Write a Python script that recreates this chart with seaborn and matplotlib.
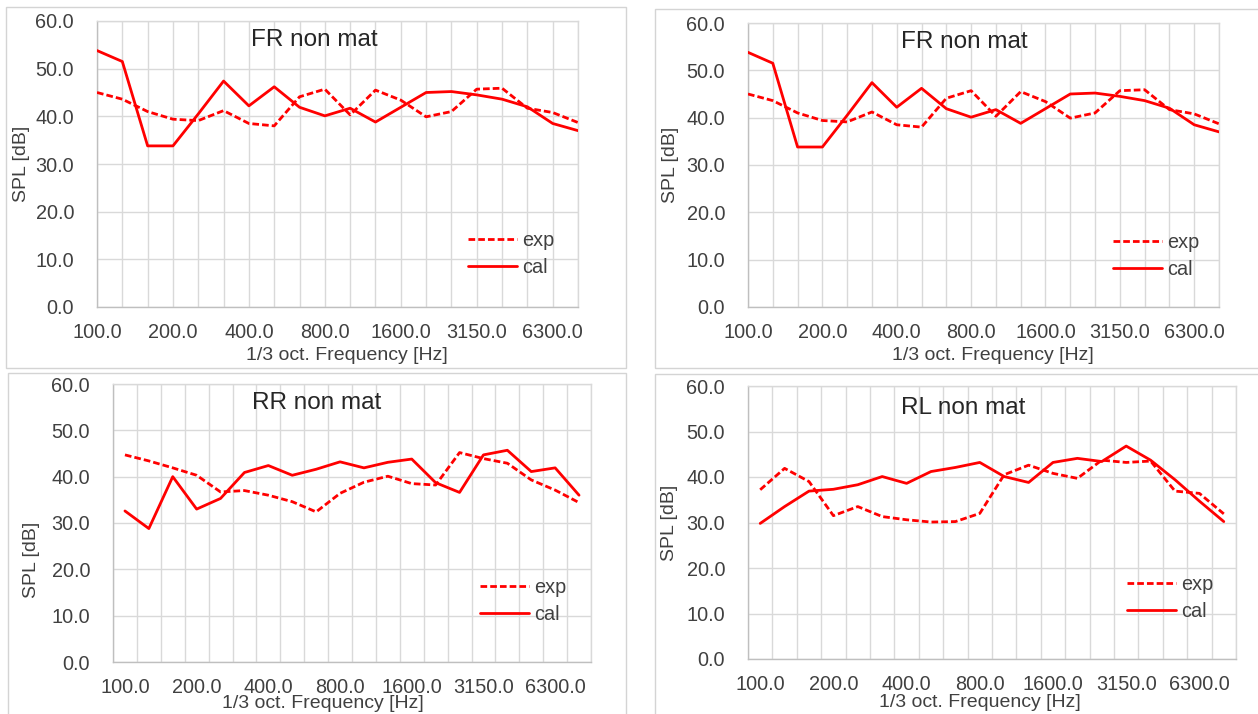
import numpy as np
import pandas as pd
import matplotlib
matplotlib.use("Agg")
import matplotlib.pyplot as plt
import matplotlib.patches as mpatches
import seaborn as sns

# ---------------- data ----------------
freqs = [100, 125, 160, 200, 250, 315, 400, 500, 630, 800, 1000, 1250,
         1600, 2000, 2500, 3150, 4000, 5000, 6300, 8000]

fr_exp = [45.0, 43.6, 41.0, 39.4, 39.1, 41.2, 38.5, 38.0, 44.1, 45.7,
          40.3, 45.5, 43.4, 39.9, 41.0, 45.7, 45.9, 41.7, 40.8, 38.7]
fr_cal = [53.8, 51.5, 33.8, 33.8, 40.5, 47.4, 42.2, 46.2, 41.9, 40.1,
          41.7, 38.8, 41.9, 45.0, 45.2, 44.5, 43.6, 42.0, 38.5, 37.0]

rr_exp = [44.7, 43.4, 41.9, 40.3, 36.7, 37.0, 36.0, 34.6, 32.4, 36.4,
          38.8, 40.1, 38.5, 38.2, 45.2, 43.9, 42.9, 39.3, 37.1, 34.4]
rr_cal = [32.6, 28.8, 40.0, 33.0, 35.3, 40.9, 42.4, 40.3, 41.6, 43.2,
          41.9, 43.1, 43.8, 38.7, 36.6, 44.7, 45.7, 41.1, 41.9, 36.0]

rl_exp = [37.2, 41.9, 39.0, 31.5, 33.5, 31.3, 30.6, 30.1, 30.2, 32.0,
          40.5, 42.6, 40.8, 39.7, 43.7, 43.2, 43.5, 36.9, 36.4, 31.9]
rl_cal = [29.8, 33.5, 36.9, 37.3, 38.3, 40.1, 38.6, 41.2, 42.1, 43.2,
          40.1, 38.8, 43.2, 44.1, 43.4, 46.8, 43.7, 39.4, 34.7, 30.2]

titles = ["FR non mat", "FR non mat", "RR non mat", "RL non mat"]
series_names = ["exp", "cal"]
yticks = [0, 10, 20, 30, 40, 50, 60]
xlabel = "1/3 oct. Frequency [Hz]"
ylabel = "SPL [dB]"

# ---------------- style ----------------
sns.set_theme(style="white")
plt.rcParams["font.family"] = ["Liberation Sans", "DejaVu Sans"]

W, H = 1258, 714
fig = plt.figure(figsize=(W / 100, H / 100), dpi=100)
fig.patch.set_facecolor("white")


def px_axes(l, r, t, b):
    return [l / W, 1 - b / H, (r - l) / W, (b - t) / H]


def px_frame(l, r, t, b):
    rect = mpatches.Rectangle((l / W, 1 - b / H), (r - l) / W, (b - t) / H,
                              transform=fig.transFigure, fill=False,
                              edgecolor="#d4d4d4", linewidth=1.0, zorder=0)
    fig.add_artist(rect)


# panel frames
px_frame(6, 626, 7, 368)
px_frame(655, 1262, 9, 368)
px_frame(8, 626, 373, 720)
px_frame(655, 1262, 374, 720)

panels = [
    dict(pos=px_axes(97, 578, 21, 307), exp=fr_exp, cal=fr_cal, between=False,
         title_xy=(0.451, 0.935), leg_xy=(0.771, 0.184),
         ylab_xy=(-0.158, 0.5), xlab_xy=(0.52, -0.168)),
    dict(pos=px_axes(748, 1219, 23, 307), exp=fr_exp, cal=fr_cal, between=False,
         title_xy=(0.46, 0.933), leg_xy=(0.775, 0.181),
         ylab_xy=(-0.164, 0.5), xlab_xy=(0.52, -0.172)),
    dict(pos=px_axes(113, 591, 384, 662), exp=rr_exp, cal=rr_cal, between=True,
         title_xy=(0.426, 0.932), leg_xy=(0.768, 0.22),
         ylab_xy=(-0.171, 0.367), xlab_xy=(0.439, -0.15)),
    dict(pos=px_axes(748, 1236, 386, 659), exp=rl_exp, cal=rl_cal, between=True,
         title_xy=(0.44, 0.92), leg_xy=(0.777, 0.223),
         ylab_xy=(-0.16, 0.5), xlab_xy=(0.475, -0.161)),
]

RED = "#ff0000"
GRID = "#d9d9d9"
TXT = "#404040"
FS_TICK = 14.3
FS_LAB = 14.0
n = len(freqs)
idx = np.arange(n)

for i, p in enumerate(panels):
    ax = fig.add_axes(p["pos"])
    ax.set_facecolor("white")
    df = pd.DataFrame({
        "idx": np.concatenate([idx, idx]),
        "value": p["exp"] + p["cal"],
        "series": ["exp"] * n + ["cal"] * n,
    })
    sns.lineplot(data=df, x="idx", y="value", style="series",
                 style_order=series_names,
                 dashes={"exp": (2.4, 1.1), "cal": ""},
                 color=RED, linewidth=2.0, ax=ax, legend=True, zorder=3)

    ax.set_ylim(0, 60)
    ax.set_yticks(yticks)
    ax.set_yticklabels([f"{v:.1f}" for v in yticks])

    if p["between"]:
        ax.set_xlim(-0.5, n - 0.5)
        grid_pos = np.arange(-0.5, n, 1.0)
    else:
        ax.set_xlim(0, n - 1)
        grid_pos = idx
    ax.set_xticks(idx[::3])
    ax.set_xticklabels([f"{freqs[k]:.1f}" for k in idx[::3]])

    ax.grid(False)
    for g in grid_pos:
        ax.axvline(g, color=GRID, lw=1.0, zorder=1)
    for yv in yticks:
        ax.axhline(yv, color=GRID, lw=1.0, zorder=1)

    for s in ax.spines.values():
        s.set_color(GRID)
        s.set_linewidth(1.0)
    ax.spines["bottom"].set_color("#bfbfbf")
    ax.spines["left"].set_color("#bfbfbf")

    ax.tick_params(axis="both", which="both", length=0, labelsize=FS_TICK)
    ax.tick_params(axis="x", pad=11.5)
    ax.tick_params(axis="y", pad=16.5)
    for lab in ax.get_xticklabels() + ax.get_yticklabels():
        lab.set_color(TXT)

    ax.set_xlabel(xlabel, fontsize=FS_LAB, color=TXT)
    ax.set_ylabel(ylabel, fontsize=FS_LAB, color=TXT)
    ax.xaxis.label.set_verticalalignment("center")
    ax.yaxis.label.set_verticalalignment("center")
    ax.xaxis.set_label_coords(*p["xlab_xy"])
    ax.yaxis.set_label_coords(*p["ylab_xy"])

    ax.text(p["title_xy"][0], p["title_xy"][1], titles[i],
            transform=ax.transAxes, ha="center", va="center",
            fontsize=17.5, color="#262626", zorder=4)

    handles, labels = ax.get_legend_handles_labels()
    hl = [(h, l) for h, l in zip(handles, labels) if l in series_names]
    for h, _ in hl:
        h.set_color(RED)
        h.set_linewidth(2.0)
    ax.legend([h for h, _ in hl], [l for _, l in hl],
              loc="center left", bbox_to_anchor=p["leg_xy"],
              frameon=False, fontsize=FS_TICK, handlelength=2.46,
              handletextpad=0.25, labelspacing=0.4, borderpad=0,
              borderaxespad=0, labelcolor=TXT)

fig.savefig("out.png", dpi=100, facecolor="white")
